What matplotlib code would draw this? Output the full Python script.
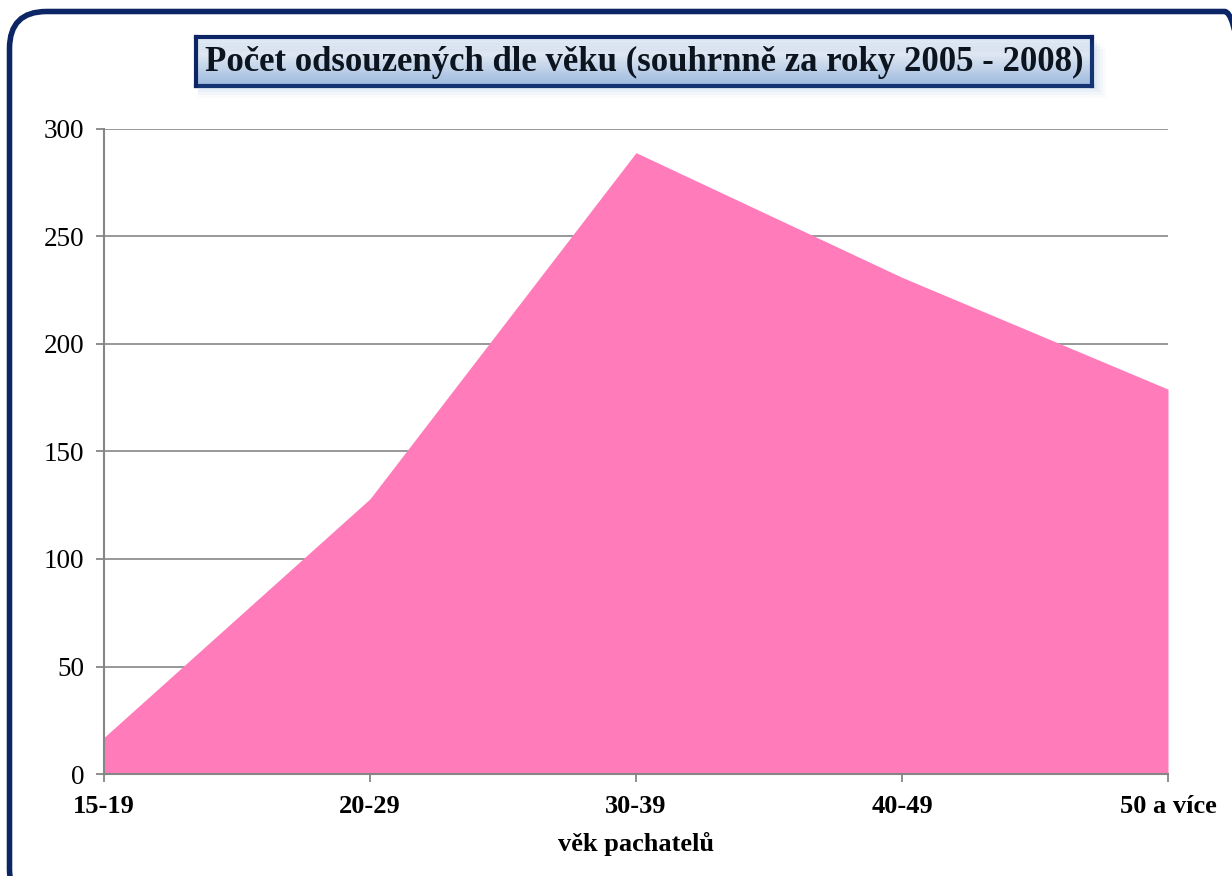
import numpy as np
import matplotlib
matplotlib.use("Agg")
import matplotlib.pyplot as plt
from matplotlib.patches import FancyBboxPatch, Rectangle

# data
vekove_skupiny = ['15-19', '20-29', '30-39', '40-49', '50 a více']
pocet_odsouzenych = [17, 128, 289, 231, 179]
y_ticks = [0, 50, 100, 150, 200, 250, 300]

plt.rcParams['font.family'] = ['Liberation Serif', 'DejaVu Serif']

W, H = 1232, 876
fig = plt.figure(figsize=(W / 100, H / 100), dpi=100)
fig.patch.set_facecolor('white')

# outer rounded frame, cut off on the right and bottom
ramecek = FancyBboxPatch((9.5 / W, -30 / H), (W + 20) / W, (H - 11.5 + 30) / H,
                         boxstyle="round,pad=0,rounding_size=0.03",
                         transform=fig.transFigure, facecolor='none',
                         edgecolor='#0B2565', linewidth=4, zorder=0,
                         mutation_aspect=W / H)
fig.patches.append(ramecek)

ax = fig.add_axes([104 / W, 1 - 774 / H, (1168 - 104) / W, (774 - 129) / H])
x = np.arange(len(vekove_skupiny))
ax.fill_between(x, pocet_odsouzenych, 0, color='#FF7BBA', linewidth=0, zorder=2)

ax.set_xlim(x[0], x[-1])
ax.set_ylim(0, 300)
ax.set_yticks(y_ticks)
ax.set_xticks(x)
ax.set_xticklabels(vekove_skupiny, fontsize=19, fontweight='bold')
ax.tick_params(axis='y', labelsize=19.5, length=6, width=1.3, color='#868686', pad=8)
ax.tick_params(axis='x', length=6, width=1.3, color='#868686', pad=9)
ax.grid(axis='y', color='#868686', linewidth=1.2, zorder=1)
ax.set_axisbelow(True)
for s in ['top', 'right']:
    ax.spines[s].set_visible(False)
for s in ['left', 'bottom']:
    ax.spines[s].set_color('#868686')
    ax.spines[s].set_linewidth(1.5)
ax.spines['bottom'].set_zorder(3)
ax.set_xlabel('věk pachatelů', fontsize=19, fontweight='bold', labelpad=10)

# title box with gradient and soft shadow
bx0, by0, bx1, by1 = 196, 37, 1092, 86
for i, a in enumerate([0.06, 0.05, 0.04, 0.03]):
    d = 3 + i * 3
    fig.patches.append(Rectangle(((bx0 + 2) / W, 1 - (by1 + d) / H),
                                 (bx1 - bx0 + d) / W, (by1 - by0) / H,
                                 transform=fig.transFigure, facecolor='#4F81BD',
                                 alpha=a, edgecolor='none', zorder=1))
grad_ax = fig.add_axes([bx0 / W, 1 - by1 / H, (bx1 - bx0) / W, (by1 - by0) / H])
t = np.linspace(0, 1, 100)
prof = np.where(t < 0.35, 0.7 + 0.3 * (t / 0.35), 1 - 0.8 * ((t - 0.35) / 0.65))
top_c = np.array([1.0, 1.0, 1.0])
blue_c = np.array([0.60, 0.72, 0.88])
grad = (prof[:, None] * top_c + (1 - prof[:, None]) * blue_c)[:, None, :]
grad_ax.imshow(grad, aspect='auto', extent=[0, 1, 0, 1], origin='upper')
grad_ax.set_xticks([])
grad_ax.set_yticks([])
for s in grad_ax.spines.values():
    s.set_color('#0B2565')
    s.set_linewidth(3)
grad_ax.text(0.5, 0.48, 'Počet odsouzených dle věku (souhrnně za roky 2005 - 2008)',
             ha='center', va='center', fontsize=25, fontweight='bold',
             color='black', transform=grad_ax.transAxes)

fig.savefig('out.png', dpi=100)
